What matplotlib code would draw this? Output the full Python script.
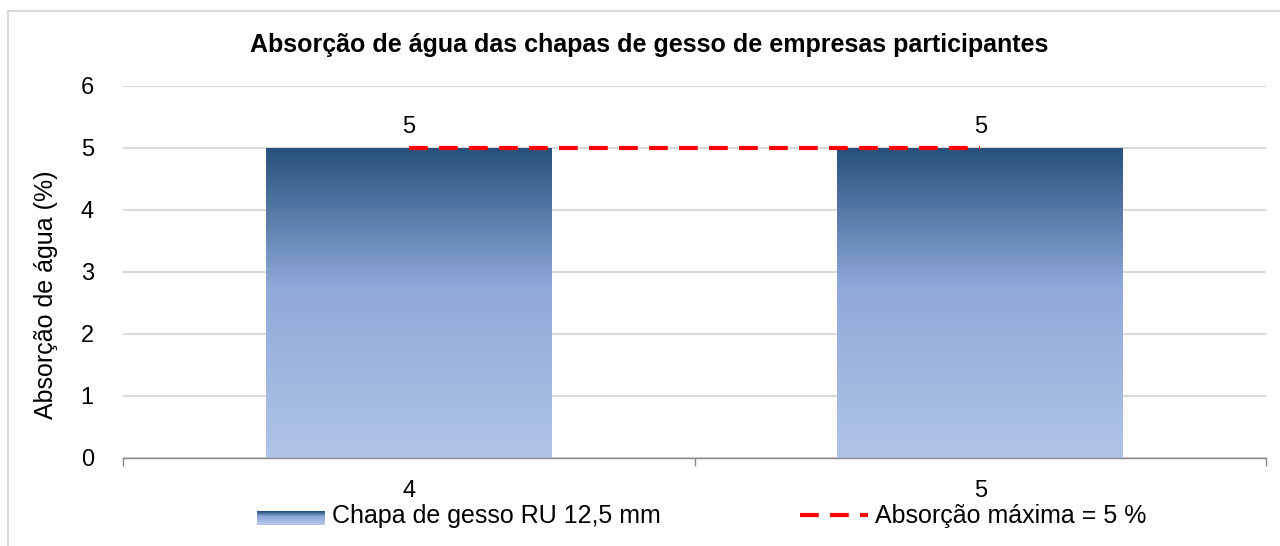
import numpy as np
import matplotlib.pyplot as plt
from matplotlib.colors import LinearSegmentedColormap
from matplotlib.patches import Rectangle
from matplotlib.lines import Line2D
from matplotlib.legend_handler import HandlerBase

plt.rcParams['font.family'] = ['Liberation Sans', 'DejaVu Sans']

# data
empresas = ["4", "5"]
absorcao = [5, 5]
limite = [5, 5]

titulo = "Absorção de água das chapas de gesso de empresas participantes"
ylabel = "Absorção de água (%)"
serie_barra = "Chapa de gesso RU 12,5 mm"
serie_linha = "Absorção máxima = 5 %"

grad = LinearSegmentedColormap.from_list(
    "grad", [(0.0, "#b0c4e6"), (0.55, "#8fa9d9"), (1.0, "#27517b")])

fig = plt.figure(figsize=(12.8, 5.46), dpi=100)
fig.patches.append(Rectangle((8 / 1280, -0.1), 1.2, 1 - 11 / 546 + 0.1,
                             transform=fig.transFigure, fill=False,
                             edgecolor="#d9d9d9", linewidth=1.5))
ax = fig.add_axes([123 / 1280, 1 - 458 / 546, (1266 - 123) / 1280, (458 - 86) / 546])

x = np.arange(len(empresas))
bars = ax.bar(x, absorcao, width=0.5, color="none", edgecolor="none", zorder=2)
g = np.linspace(0, 1, 256).reshape(-1, 1)
for b in bars:
    x0, y0 = b.get_x(), b.get_y()
    im = ax.imshow(g, cmap=grad, aspect="auto", origin="lower",
                   extent=[x0, x0 + b.get_width(), y0, y0 + b.get_height()], zorder=2)
    im.set_clip_path(b)

for xi, v in zip(x, absorcao):
    ax.text(xi, v + 0.16, str(v), ha="center", va="bottom", fontsize=17)

dash = (0, (4.5, 2.7))
ax.plot(x, limite, color="#ff0000", linestyle=dash, linewidth=3, zorder=3)

ax.set_xlim(-0.5, len(empresas) - 0.5)
ax.set_ylim(0, 6)
ax.set_yticks(range(0, 7))
ax.set_xticks(x)
ax.set_xticklabels(empresas)
ax.set_xticks(np.arange(-0.5, len(empresas)), minor=True)
ax.tick_params(axis="x", which="major", length=0, labelsize=17, pad=16)
ax.tick_params(axis="x", which="minor", length=6, color="#888888", width=1)
ax.tick_params(axis="y", length=0, labelsize=17, pad=21)
ax.yaxis.grid(True, color="#d9d9d9", linewidth=1.5)
ax.set_axisbelow(True)
for s in ["top", "right", "left"]:
    ax.spines[s].set_visible(False)
ax.spines["bottom"].set_color("#888888")
ax.spines["bottom"].set_linewidth(1)
ax.set_ylabel(ylabel, fontsize=18, va="center")
ax.yaxis.set_label_coords((46 - 123) / (1266 - 123), (458 - 295) / (458 - 86))

fig.text(649 / 1280, 1 - 45 / 546, titulo, ha="center", va="center",
         fontsize=18, fontweight="bold")


class GradHandler(HandlerBase):
    def create_artists(self, legend, orig, xd, yd, w, h, fs, trans):
        out = []
        n = 12
        for i in range(n):
            c = grad(1 - i / (n - 1))
            out.append(Rectangle((xd, yd + h - (i + 1) * h / n), w, h / n,
                                 facecolor=c, edgecolor="none", transform=trans))
        return out


bar_handle = Rectangle((0, 0), 1, 1)
line_handle = Line2D([0], [0], color="#ff0000", linestyle=dash, linewidth=3)
leg_kw = dict(loc="center left", frameon=False, fontsize=18, handlelength=2.7,
              handletextpad=0.3, borderpad=0, borderaxespad=0, handleheight=0.5)
fig.legend([bar_handle], [serie_barra], handler_map={Rectangle: GradHandler()},
           bbox_to_anchor=(257 / 1280, 1 - 516 / 546), **leg_kw)
fig.legend([line_handle], [serie_linha],
           bbox_to_anchor=(800 / 1280, 1 - 516 / 546), **leg_kw)

fig.savefig("out.png", dpi=100)
